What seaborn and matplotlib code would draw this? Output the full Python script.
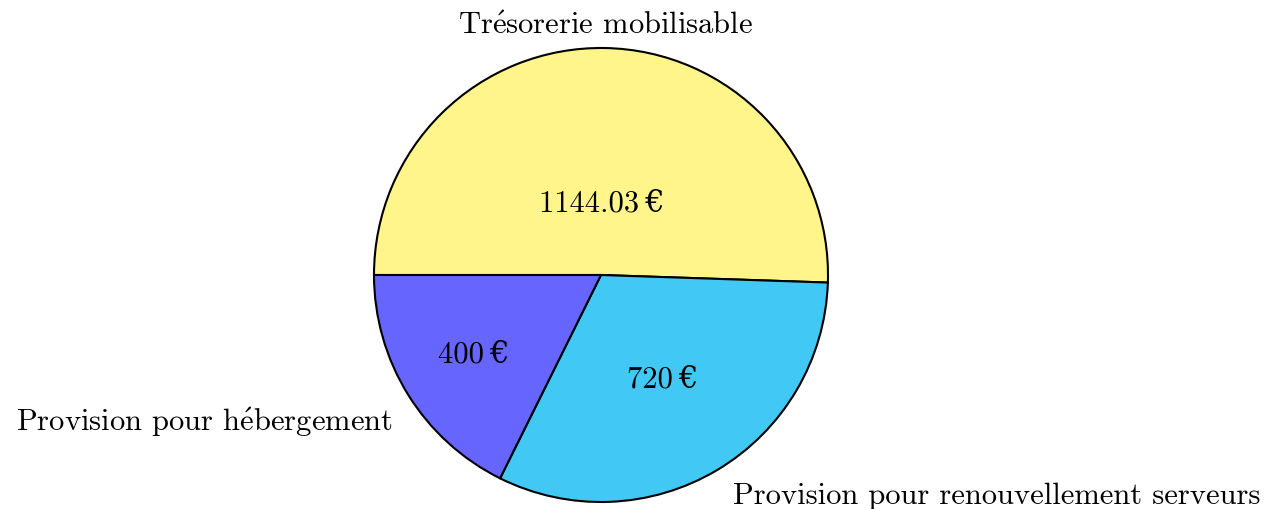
import matplotlib
matplotlib.use("Agg")
import matplotlib.pyplot as plt
import seaborn as sns
import numpy as np

categories = ["Tr$\\acute{\\mathrm{e}}$sorerie mobilisable",
              "Provision pour renouvellement serveurs",
              "Provision pour h$\\acute{\\mathrm{e}}$bergement"]
values = [1144.03, 720, 400]
value_labels = ["1144.03\u2009€", "720\u2009€", "400\u2009€"]
colors = ["#FFF58A", "#42C8F4", "#6666FF"]
inner_dist = [0.32, 0.53, 0.66]
label_dist = [1.1, 1.13, 1.08]
label_ha = ["center", "left", "right"]
label_va = ["center", "center", "top"]

sns.set_theme(style="white")
plt.rcParams['font.family'] = ['cmr10', 'DejaVu Serif']
plt.rcParams['mathtext.fontset'] = 'cm'
plt.rcParams['mathtext.rm'] = 'cmr10'
plt.rcParams['axes.formatter.use_mathtext'] = True

fig = plt.figure(figsize=(12.69, 5.10), dpi=100)
ax = fig.add_axes([0, 0, 1, 1])
wedges, texts = ax.pie(values, labels=categories, colors=colors, startangle=180,
                       counterclock=False, labeldistance=1.1,
                       wedgeprops=dict(edgecolor="black", linewidth=1.5),
                       textprops=dict(fontsize=22, color="black"))
for w, t, d, ha, va in zip(wedges, texts, label_dist, label_ha, label_va):
    ang = np.deg2rad((w.theta1 + w.theta2) / 2)
    t.set_position((d * np.cos(ang), d * np.sin(ang)))
    t.set_ha(ha)
    t.set_va(va)
for w, lab, d in zip(wedges, value_labels, inner_dist):
    ang = np.deg2rad((w.theta1 + w.theta2) / 2)
    ax.text(d * np.cos(ang), d * np.sin(ang), lab, ha="center", va="center",
            fontsize=22, color="black")

r = 227.0
ax.set_xlim(-601 / r, (1269 - 601) / r)
ax.set_ylim(-234 / r, 276 / r)
ax.set_aspect('auto')
ax.axis('off')
fig.savefig("out.png", dpi=100)
